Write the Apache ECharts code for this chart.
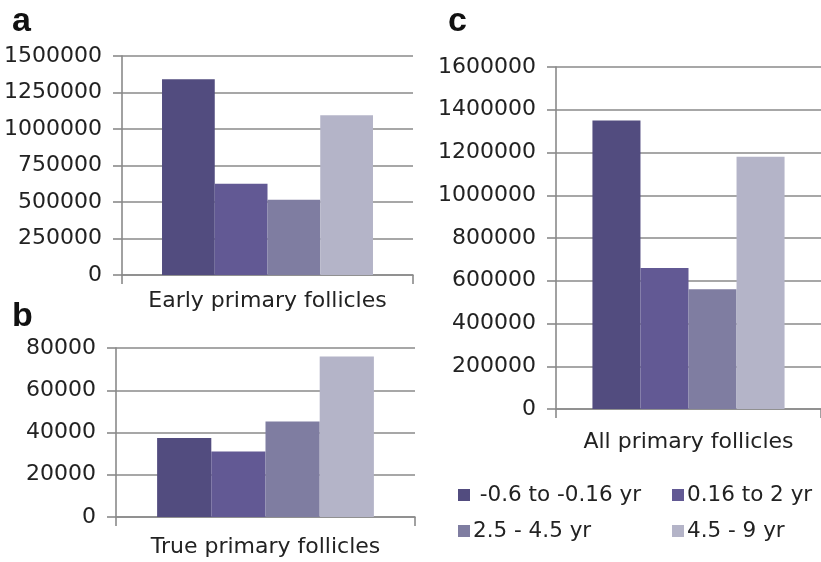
<!DOCTYPE html>
<html>
<head>
<meta charset="utf-8">
<script src="https://cdn.jsdelivr.net/npm/echarts@6/dist/echarts.min.js"></script>
<style>
  html, body { margin: 0; padding: 0; background: #fff; }
  #chart { width: 821px; height: 562px; }
</style>
</head>
<body>
<div id="chart"></div>
<script>
// age groups (series names)
const ageGroups = ['-0.6 to -0.16 yr', '0.16 to 2 yr', '2.5 - 4.5 yr', '4.5 - 9 yr']
const barColors = ['#524c7f', '#625994', '#7f7da1', '#b4b4c8']

// panel categories
const catA = ['Early primary follicles']
const catB = ['True primary follicles']
const catC = ['All primary follicles']

// values per age group
const earlyValues = [1340000, 625000, 515000, 1095000]
const trueValues = [37400, 31000, 45200, 76000]
const allValues = [1350000, 660000, 560000, 1180000]

const axisGray = '#8a8a8a'
const labelFont = 'DejaVu Sans'

const chart = echarts.init(document.getElementById('chart'))

// shared axis styles
const valueAxisBase = {
  type: 'value',
  axisLine: { show: true, lineStyle: { color: axisGray, width: 1.6 } },
  axisTick: { show: true, length: 9, lineStyle: { color: axisGray, width: 1.6 } },
  splitLine: { show: true, lineStyle: { color: axisGray, width: 1.6 } },
  axisLabel: { color: '#222', fontSize: 22, fontFamily: labelFont, margin: 20, formatter: (v) => String(v) },
}
const catAxisBase = {
  type: 'category',
  axisLine: { show: true, lineStyle: { color: axisGray, width: 1.6 } },
  axisTick: { show: true, length: 9, lineStyle: { color: axisGray, width: 1.6 } },
  axisLabel: { color: '#222', fontSize: 22, fontFamily: labelFont },
}

function makeSeries(values, idx) {
  return values.map((v, i) => ({
    name: ageGroups[i],
    type: 'bar',
    xAxisIndex: idx,
    yAxisIndex: idx,
    data: [v],
    barGap: '0%',
    barCategoryGap: '27.5%',
    itemStyle: { color: barColors[i] },
  }))
}

const legendText = { fontSize: 21.5, fontFamily: labelFont, color: '#222', padding: [0, 0, 0, -2] }

chart.setOption({
  animation: false,
  color: barColors,
  title: [
    { text: 'a', left: 7, top: 0, textStyle: { fontSize: 34, fontWeight: 'bold', fontFamily: 'Liberation Sans', color: '#111' } },
    { text: 'b', left: 7, top: 295, textStyle: { fontSize: 34, fontWeight: 'bold', fontFamily: 'Liberation Sans', color: '#111' } },
    { text: 'c', left: 443, top: 0, textStyle: { fontSize: 34, fontWeight: 'bold', fontFamily: 'Liberation Sans', color: '#111' } },
  ],
  grid: [
    { left: 122, right: 408, top: 56, bottom: 287 },
    { left: 116, right: 406, top: 348, bottom: 45 },
    { left: 556, right: 0, top: 67, bottom: 153 },
  ],
  xAxis: [
    { ...catAxisBase, gridIndex: 0, data: catA, axisLabel: { ...catAxisBase.axisLabel, margin: 15 } },
    { ...catAxisBase, gridIndex: 1, data: catB, axisLabel: { ...catAxisBase.axisLabel, margin: 19 } },
    { ...catAxisBase, gridIndex: 2, data: catC, axisLabel: { ...catAxisBase.axisLabel, margin: 22 } },
  ],
  yAxis: [
    { ...valueAxisBase, gridIndex: 0, min: 0, max: 1500000, interval: 250000 },
    { ...valueAxisBase, gridIndex: 1, min: 0, max: 80000, interval: 20000 },
    { ...valueAxisBase, gridIndex: 2, min: 0, max: 1600000, interval: 200000 },
  ],
  legend: [
    {
      data: [ageGroups[0], ageGroups[2]],
      orient: 'vertical',
      left: 453,
      top: 479,
      itemWidth: 12,
      itemHeight: 12,
      itemGap: 14,
      icon: 'rect',
      formatter: (name) => (name === ageGroups[0] ? ' ' + name : name),
      textStyle: legendText,
    },
    {
      data: [ageGroups[1], ageGroups[3]],
      orient: 'vertical',
      left: 667,
      top: 479,
      itemWidth: 12,
      itemHeight: 12,
      itemGap: 14,
      icon: 'rect',
      textStyle: legendText,
    },
  ],
  series: [
    ...makeSeries(earlyValues, 0),
    ...makeSeries(trueValues, 1),
    ...makeSeries(allValues, 2),
  ],
})

window.addEventListener('resize', () => chart.resize())
</script>
</body>
</html>
